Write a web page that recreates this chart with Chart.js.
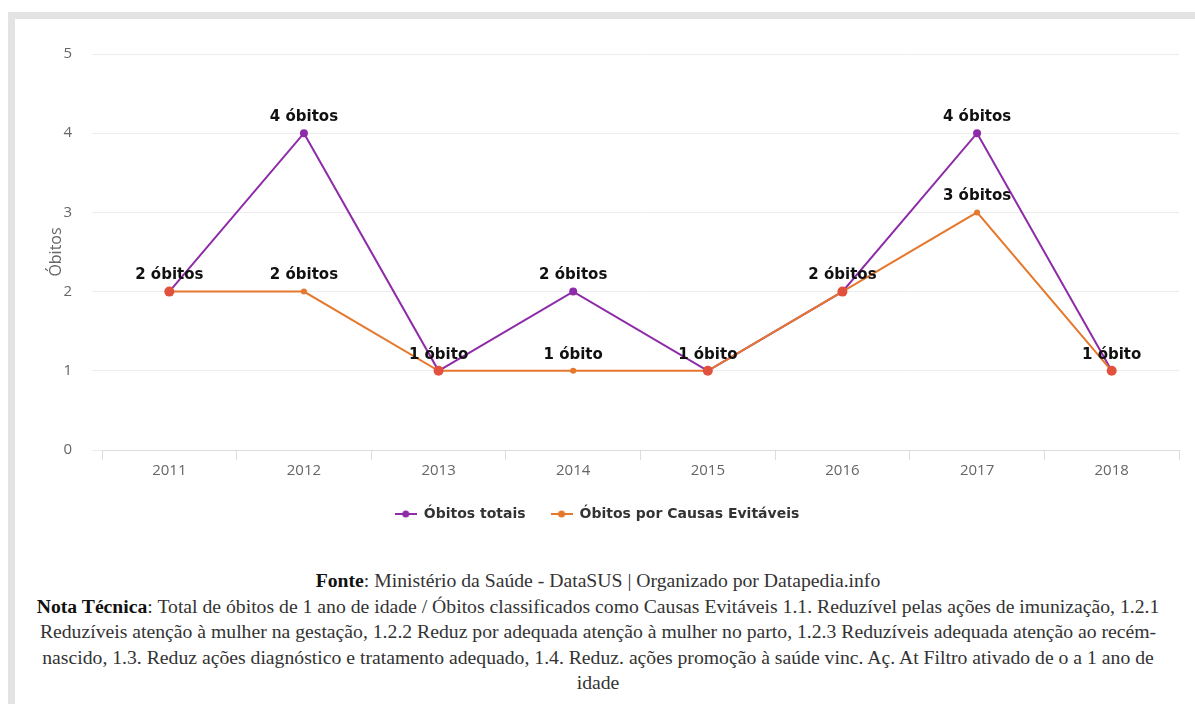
<!DOCTYPE html>
<html>
<head>
<meta charset="utf-8">
<script src="https://cdn.jsdelivr.net/npm/chart.js@4.4.0/dist/chart.umd.min.js"></script>
<style>
  body { margin: 0; background: #fff; width: 1195px; height: 704px; overflow: hidden; position: relative; }
  .frameTop { position: absolute; left: 8px; top: 12px; width: 1187px; height: 7px; background: #e3e3e3; }
  .frameLeft { position: absolute; left: 8px; top: 12px; width: 7px; height: 692px; background: #e3e3e3; }
  #wrap { position: absolute; left: 15px; top: 19px; width: 1180px; height: 525px; }
  #notes { position: absolute; left: 15px; top: 568px; width: 1166px; text-align: center;
    font-family: "Liberation Serif", "DejaVu Serif", serif; font-size: 19.7px; line-height: 25.5px; color: #333; }
  #notes b { color: #111; font-weight: bold; }
</style>
</head>
<body>
<div class="frameTop"></div>
<div class="frameLeft"></div>
<div id="wrap"><canvas id="MyChart"></canvas></div>
<div id="notes">
  <b>Fonte</b>: Ministério da Saúde - DataSUS | Organizado por Datapedia.info<br>
  <b>Nota Técnica</b>: Total de óbitos de 1 ano de idade / Óbitos classificados como Causas Evitáveis 1.1. Reduzível pelas ações de imunização, 1.2.1<br>
  Reduzíveis atenção à mulher na gestação, 1.2.2 Reduz por adequada atenção à mulher no parto, 1.2.3 Reduzíveis adequada atenção ao recém-<br>
  nascido, 1.3. Reduz ações diagnóstico e tratamento adequado, 1.4. Reduz. ações promoção à saúde vinc. Aç. At Filtro ativado de o a 1 ano de<br>
  idade
</div>
<script>
let anos = ['2011', '2012', '2013', '2014', '2015', '2016', '2017', '2018']
let obitosTotais = [2, 4, 1, 2, 1, 2, 4, 1]
let obitosEvitaveis = [2, 2, 1, 1, 1, 2, 3, 1]
let yTicks = [0, 1, 2, 3, 4, 5]

let roxo = '#8e2ba8'
let laranja = '#e5782c'
let vermelho = '#e2513d'

// small line + dot icon for the legend
function legendIcon(color) {
    let c = document.createElement('canvas')
    c.width = 22
    c.height = 10
    let g = c.getContext('2d')
    g.strokeStyle = color
    g.lineWidth = 2
    g.beginPath()
    g.moveTo(0, 5)
    g.lineTo(22, 5)
    g.stroke()
    g.fillStyle = color
    g.beginPath()
    g.arc(11, 5, 3.5, 0, Math.PI * 2)
    g.fill()
    return c
}

let rotulos = {
    id: 'rotulos',
    afterDatasetsDraw(chart) {
        let ctx = chart.ctx
        ctx.save()
        ctx.font = 'bold 15px "DejaVu Sans", sans-serif'
        ctx.fillStyle = '#111'
        ctx.textAlign = 'center'
        ctx.textBaseline = 'middle'
        chart.data.datasets.forEach((ds, i) => {
            let meta = chart.getDatasetMeta(i)
            meta.data.forEach((pt, j) => {
                let v = ds.data[j]
                if (i === 1 && v === obitosTotais[j]) return
                let txt = v + (v === 1 ? ' óbito' : ' óbitos')
                ctx.fillText(txt, pt.x, pt.y - 16)
            })
        })
        ctx.restore()
    }
}

let MyChart = document.getElementById('MyChart').getContext('2d')

let obitosChart = new Chart(MyChart, {
    type: 'line',
    data: {
        labels: anos,
        datasets: [{
            label: 'Óbitos totais',
            data: obitosTotais,
            borderColor: roxo,
            backgroundColor: roxo,
            borderWidth: 2,
            pointRadius: 4,
            pointBorderWidth: 0,
            tension: 0,
            order: 1
        }, {
            label: 'Óbitos por Causas Evitáveis',
            data: obitosEvitaveis,
            borderColor: laranja,
            backgroundColor: laranja,
            borderWidth: 2,
            pointRadius: ctx => obitosEvitaveis[ctx.dataIndex] === obitosTotais[ctx.dataIndex] ? 5 : 3,
            pointBackgroundColor: ctx => obitosEvitaveis[ctx.dataIndex] === obitosTotais[ctx.dataIndex] ? vermelho : laranja,
            pointBorderWidth: 0,
            tension: 0,
            order: 0
        }]
    },
    options: {
        responsive: true,
        maintainAspectRatio: false,
        animation: false,
        layout: { padding: { left: 0, right: 16, top: 35, bottom: 13 } },
        scales: {
            x: {
                offset: true,
                grid: {
                    offset: true,
                    drawOnChartArea: false,
                    drawTicks: true,
                    tickLength: 10,
                    color: '#dcdcdc'
                },
                border: { color: '#dcdcdc' },
                ticks: { color: '#666', font: { family: 'Open Sans', size: 15 }, padding: 2 }
            },
            y: {
                min: 0,
                max: 5,
                afterBuildTicks: axis => { axis.ticks = yTicks.map(v => ({ value: v })) },
                afterFit: axis => { axis.width = 87 },
                grid: { color: '#ececec', tickLength: 10 },
                border: { display: false },
                ticks: { color: '#666', font: { family: 'Open Sans', size: 15 }, padding: 20 },
                title: {
                    display: true,
                    text: 'Óbitos',
                    color: '#666',
                    font: { family: 'Open Sans', size: 16 },
                    padding: { top: 32, bottom: 0 }
                }
            }
        },
        plugins: {
            legend: {
                display: true,
                position: 'bottom',
                labels: {
                    usePointStyle: true,
                    pointStyleWidth: 22,
                    color: '#333',
                    font: { family: 'DejaVu Sans', size: 14, weight: 'bold' },
                    padding: 25,
                    sort: (a, b) => a.datasetIndex - b.datasetIndex,
                    generateLabels: chart => {
                        let items = Chart.defaults.plugins.legend.labels.generateLabels(chart)
                        items.forEach(it => {
                            it.pointStyle = legendIcon(chart.data.datasets[it.datasetIndex].borderColor)
                        })
                        return items
                    }
                }
            },
            tooltip: { enabled: false }
        }
    },
    plugins: [rotulos]
})
</script>
</body>
</html>
